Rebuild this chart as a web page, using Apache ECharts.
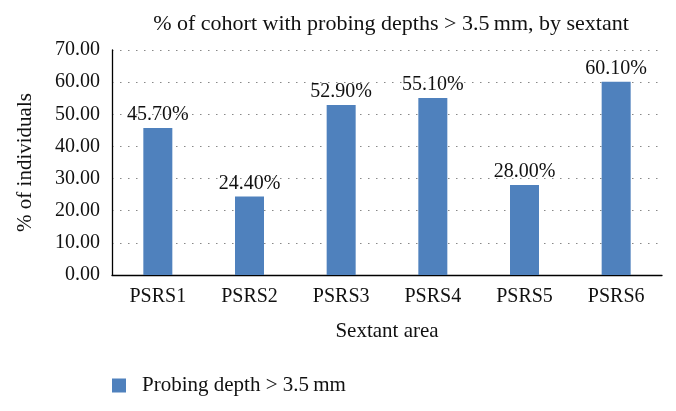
<!DOCTYPE html>
<html>
<head>
<meta charset="utf-8">
<script src="https://cdn.jsdelivr.net/npm/echarts@6/dist/echarts.min.js"></script>
<style>html,body{margin:0;padding:0;background:#fff;}#c{width:676px;height:411px;}</style>
</head>
<body>
<div id="c"></div>
<script>
const categories = ['PSRS1', 'PSRS2', 'PSRS3', 'PSRS4', 'PSRS5', 'PSRS6'];
const values = [45.7, 24.4, 52.9, 55.1, 28.0, 60.1];
const seriesName = 'Probing depth > 3.5\u2009mm';
const titleText = '% of cohort with probing depths > 3.5\u2009mm, by sextant';
const yAxisName = '% of individuals';
const xAxisName = 'Sextant area';

const font = '"Liberation Serif", "DejaVu Serif", serif';
const chart = echarts.init(document.getElementById('c'));
chart.setOption({
  animation: false,
  backgroundColor: '#fff',
  textStyle: { fontFamily: font, color: '#111' },
  title: {
    text: titleText,
    left: 386, top: 8, textAlign: 'center',
    textStyle: { fontFamily: font, fontSize: 22, fontWeight: 'normal', color: '#111' }
  },
  legend: {
    left: 107, top: 370,
    itemWidth: 14, itemHeight: 14, itemGap: 10,
    icon: 'rect',
    textStyle: { fontFamily: font, fontSize: 21, color: '#111', padding: [0, 0, 0, 11] },
    data: [seriesName]
  },
  grid: { left: 112, right: 14, top: 50, bottom: 136, containLabel: false },
  xAxis: {
    type: 'category', data: categories,
    name: xAxisName, nameLocation: 'middle', nameGap: 46,
    nameTextStyle: { fontFamily: font, fontSize: 21, color: '#111' },
    axisLine: { lineStyle: { color: '#000', width: 1.3 } },
    axisTick: { show: false },
    axisLabel: { fontFamily: font, fontSize: 20, color: '#111', margin: 12 }
  },
  yAxis: {
    type: 'value', min: 0, max: 70, interval: 10,
    name: yAxisName, nameLocation: 'middle', nameGap: 76, nameRotate: 90,
    nameTextStyle: { fontFamily: font, fontSize: 21, color: '#111' },
    axisLine: { show: true, lineStyle: { color: '#000', width: 1.3 } },
    axisTick: { show: false },
    axisLabel: { fontFamily: font, fontSize: 20, color: '#111', margin: 12,
      formatter: v => v.toFixed(2) },
    splitLine: { show: true, lineStyle: { color: '#888', type: [1.5, 6.5], width: 1.2 } }
  },
  series: [{
    name: seriesName, type: 'bar', data: values,
    barWidth: 29,
    itemStyle: { color: '#4F81BD' },
    label: { show: true, position: 'top', distance: 3,
      fontFamily: font, fontSize: 20, color: '#111',
      formatter: p => p.value.toFixed(2) + '%' }
  }]
});
</script>
</body>
</html>
